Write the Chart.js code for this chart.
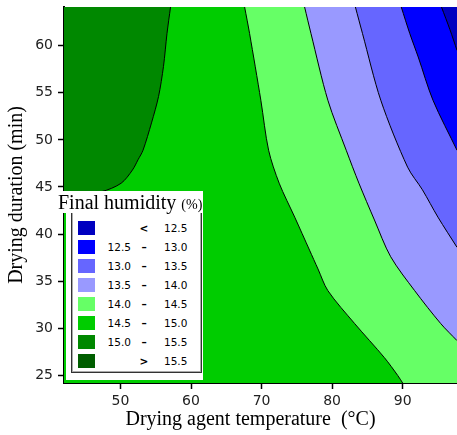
<!DOCTYPE html>
<html lang="en">
<head>
  <meta charset="UTF-8" />
  <title>Final humidity - contour</title>
  <script src="https://cdn.jsdelivr.net/npm/chart.js"></script>
  <style>
    * { box-sizing: border-box; margin: 0; padding: 0; }
    body { background: #fff; width: 457px; height: 435px; overflow: hidden; }
    .wrap { position: relative; width: 457px; height: 435px; }
    canvas { position: absolute; left: 0; top: 0; }
    .key-title {
      position: absolute; left: 57px; top: 191px; width: 146px; height: 22px;
      background: #fff; color: #000; white-space: nowrap; padding-left: 1px;
      font-family: 'Liberation Serif', serif; font-size: 20px; line-height: 22px;
    }
    .key-title small { font-size: 14px; }
    .key-body { position: absolute; left: 66px; top: 213px; width: 137px; height: 167px; background: #fff; }
    .key-frame {
      position: absolute; left: 5px; top: 0; width: 131px; height: 160px;
      border: 1px solid #333; border-top: none;
      box-shadow: inset 1px 0 #aaa, inset -1px -1px #aaa;
    }
    .key-row {
      position: absolute; left: 0; width: 137px; height: 14px; line-height: 14px;
      font-family: 'DejaVu Sans', sans-serif; font-size: 10.5px; color: #000;
    }
    .key-row .sw { position: absolute; left: 12px; top: 0; width: 17px; height: 14px; }
    .key-row .lo { position: absolute; left: 34px; width: 31px; text-align: right; }
    .key-row .sg { position: absolute; left: 72px; width: 12px; text-align: center; font-weight: bold; }
    .key-row .hi { position: absolute; left: 98px; width: 30px; text-align: left; }
  </style>
</head>
<body>
<div class="wrap">
  <canvas id="contour" width="457" height="435"></canvas>
  <div class="key-body"><div class="key-frame"></div><div id="keyRows"></div></div>
  <div class="key-title">Final humidity <small>(%)</small></div>
</div>

<script>
  // axis ranges and ticks
  const xMin = 42, xMax = 97.7;
  const yMin = 24.2, yMax = 64.1;
  const xTicks = [50, 60, 70, 80, 90];
  const yTicks = [25, 30, 35, 40, 45, 50, 55, 60];

  // humidity classes (legend)
  const levelColors = ['#0000c0', '#0000ff', '#6666ff', '#9999ff', '#66ff66', '#00cc00', '#008800', '#005e00'];
  const levelLow = ['', '12.5', '13.0', '13.5', '14.0', '14.5', '15.0', ''];
  const levelSign = ['<', '–', '–', '–', '–', '–', '–', '>'];
  const levelHigh = ['12.5', '13.0', '13.5', '14.0', '14.5', '15.0', '15.5', '15.5'];

  // contour lines, temperature (°C) vs duration (min)
  const c150T = [42.0, 44.2, 47.3, 50.1, 51.7, 52.5, 53.2, 54.4, 55.4, 56.1, 56.6, 57.1];
  const c150D = [44.3, 44.35, 44.5, 45.4, 46.8, 47.9, 48.9, 51.8, 54.6, 57.8, 61.3, 64.1];

  const c145T = [90.0, 89.3, 87.4, 83.2, 79.4, 78.0, 76.8, 74.7, 72.5, 71.0, 69.9, 68.3, 67.6];
  const c145D = [24.2, 25.0, 26.9, 30.5, 34.0, 36.3, 38.3, 41.8, 45.4, 48.9, 54.2, 61.3, 64.1];

  const c140T = [97.7, 95.4, 91.7, 88.3, 86.0, 83.8, 82.0, 79.4, 77.0, 76.1];
  const c140D = [28.7, 30.5, 34.0, 37.6, 41.5, 45.4, 48.9, 54.2, 61.3, 64.1];

  const c135T = [97.7, 95.0, 92.8, 90.7, 86.9, 84.3, 83.3];
  const c135D = [38.6, 41.8, 44.7, 47.1, 54.2, 61.3, 64.1];

  const c130T = [97.7, 94.3, 92.2, 91.0, 89.8];
  const c130D = [48.9, 54.2, 58.8, 61.3, 64.1];

  const c125T = [97.7, 96.7, 95.5];
  const c125D = [59.5, 61.7, 64.1];

  function zone(temps, durs, color, toValue, order, lineWidth) {
    return {
      data: temps.map((t, i) => ({ x: t, y: durs[i] })),
      backgroundColor: color,
      borderColor: '#000',
      borderWidth: lineWidth,
      fill: { value: toValue },
      pointRadius: 0,
      tension: 0.3,
      order: order
    };
  }

  const datasets = [
    zone([xMax, xMax], [yMin, yMax], levelColors[5], xMin, 20, 0),
    zone(c145T, c145D, levelColors[4], xMax, 9, 1),
    zone(c140T, c140D, levelColors[3], xMax, 8, 1),
    zone(c135T, c135D, levelColors[2], xMax, 7, 1),
    zone(c130T, c130D, levelColors[1], xMax, 6, 1),
    zone(c125T, c125D, levelColors[0], xMax, 5, 1),
    zone(c150T, c150D, levelColors[6], xMin, 4, 1)
  ];

  const tickFont = { family: 'DejaVu Sans', size: 14 };
  const titleFont = { family: 'Liberation Serif', size: 20 };

  new Chart(document.getElementById('contour'), {
    type: 'line',
    data: { datasets },
    options: {
      indexAxis: 'y',
      responsive: false,
      animation: false,
      devicePixelRatio: 1,
      layout: { padding: { top: 7, right: 0, left: 0, bottom: 0 } },
      plugins: { legend: { display: false }, tooltip: { enabled: false } },
      scales: {
        x: {
          type: 'linear', position: 'bottom', min: xMin, max: xMax,
          afterBuildTicks: s => { s.ticks = xTicks.map(v => ({ value: v })); },
          afterFit: s => { s.height = 52; s.paddingLeft = 0; s.paddingRight = 0; },
          grid: { drawOnChartArea: false, drawTicks: true, tickLength: 6, tickColor: '#000', tickWidth: 1.5 },
          border: { display: true, color: '#000', width: 2 },
          ticks: { color: '#222', font: tickFont, padding: 4, maxRotation: 0 },
          title: {
            display: true, text: 'Drying agent temperature  (°C)\u00a0\u00a0\u00a0\u00a0',
            color: '#000', font: titleFont, padding: { top: 0, bottom: 3 }
          }
        },
        y: {
          type: 'linear', position: 'left', min: yMin, max: yMax,
          afterBuildTicks: s => { s.ticks = yTicks.map(v => ({ value: v })); },
          afterFit: s => { s.width = 64; s.paddingTop = 0; s.paddingBottom = 0; },
          grid: { drawOnChartArea: false, drawTicks: true, tickLength: 6, tickColor: '#000', tickWidth: 1.5 },
          border: { display: true, color: '#000', width: 2 },
          ticks: { color: '#222', font: tickFont, padding: 5 },
          title: {
            display: true, text: 'Drying duration (min)',
            color: '#000', font: titleFont, padding: { top: 5, bottom: 0 }
          }
        }
      }
    }
  });

  // legend rows
  const rows = document.getElementById('keyRows');
  levelColors.forEach((c, i) => {
    const row = document.createElement('div');
    row.className = 'key-row';
    row.style.top = (8 + i * 19.06) + 'px';
    row.innerHTML = '<span class="sw" style="background:' + c + '"></span>' +
      '<span class="lo">' + levelLow[i] + '</span>' +
      '<span class="sg">' + levelSign[i] + '</span>' +
      '<span class="hi">' + levelHigh[i] + '</span>';
    rows.appendChild(row);
  });
</script>
</body>
</html>
